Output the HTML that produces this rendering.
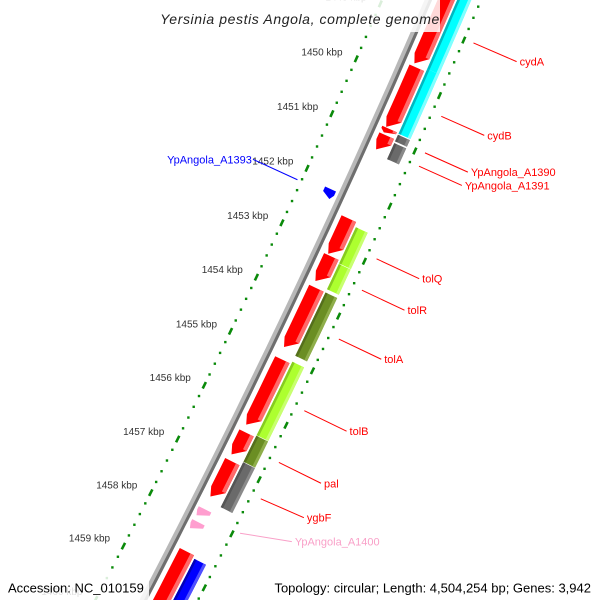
<!DOCTYPE html>
<html><head><meta charset="utf-8"><style>
html,body{margin:0;padding:0;background:#fff;width:600px;height:600px;overflow:hidden}
svg{display:block;overflow:hidden}
text{font-family:"Liberation Sans","DejaVu Sans",sans-serif}
</style></head><body>
<svg id="map" width="600" height="600" viewBox="0 0 600 600" xmlns="http://www.w3.org/2000/svg">
<rect width="600" height="600" fill="#fff"/>
<g id="ticks"></g>
<g id="backbone"></g>
<g id="features"></g>
<g id="labels"></g>
<rect x="152" y="0" width="288" height="32" fill="#fff" fill-opacity="0.85"/>
<text x="300" y="24" text-anchor="middle" font-size="14" font-style="italic" fill="#222" letter-spacing="0.6">Yersinia pestis Angola, complete genome</text>
<rect x="3" y="573" width="146" height="27" fill="#fff" fill-opacity="0.85"/>
<text x="8" y="588" font-size="13" fill="#000" dominant-baseline="central">Accession: NC_010159</text>
<rect x="256" y="573" width="342" height="27" fill="#fff" fill-opacity="0.85"/>
<text x="591" y="588" font-size="13" fill="#000" text-anchor="end" dominant-baseline="central">Topology: circular; Length: 4,504,254 bp; Genes: 3,942</text>
</svg>
<script>
// ---- data (kbp) ----
const tickKbp = [1448,1449,1450,1451,1452,1453,1454,1455,1456,1457,1458,1459,1460];
const tickLabels = ["1448 kbp","1449 kbp","1450 kbp","1451 kbp","1452 kbp","1453 kbp","1454 kbp","1455 kbp","1456 kbp","1457 kbp","1458 kbp","1459 kbp","1460 kbp"];
// forward (red) CDS ring
const redStart = [1440, 1449.73, 1450.84, 1450.96, 1452.47, 1453.16, 1453.74, 1455.05, 1456.40, 1456.93, 1458.60];
const redEnd   = [1449.68, 1450.83, 1450.93, 1451.24, 1453.14, 1453.64, 1454.85, 1456.28, 1456.83, 1457.61, 1466];
// gene ring
const geneStart = [1440, 1449.68, 1450.87, 1451.02, 1452.55, 1453.22, 1453.74, 1455.01, 1456.37, 1456.86, 1458.65];
const geneEnd   = [1449.68, 1450.85, 1450.99, 1451.31, 1453.21, 1453.68, 1454.90, 1456.36, 1456.85, 1457.69, 1466];
const geneKind  = ["cyan","cyan","gray","gray","lime","lime","olive","lime","olive","gray","blue"];
// small pink features
const pinkStart = [1457.84, 1458.08];
const pinkEnd   = [1457.99, 1458.23];
// inner-strand blue feature
const blueStart = [1452.15];
const blueEnd   = [1452.31];
// labels
const labelNames = ["cydA","cydB","YpAngola_A1390","YpAngola_A1391","tolQ","tolR","tolA","tolB","pal","ygbF","YpAngola_A1400","YpAngola_A1393"];
const labelAnchorKbp = [1448.98,1450.30,1450.96,1451.20,1452.88,1453.45,1454.34,1455.65,1456.60,1457.27,1457.93,1452.24];
const labelPosKbp    = [1448.98,1450.30,1450.96,1451.20,1452.88,1453.45,1454.34,1455.65,1456.60,1457.23,1457.67,1452.24];
const labelColor = ["#f00","#f00","#f00","#f00","#f00","#f00","#f00","#f00","#f00","#f00","#f9a0c8","#00f"];
const labelSide  = [1,1,1,1,1,1,1,1,1,1,1,-1];

// ---- geometry ----
const CX=-7838, CY=-3558, R0=9000, TH0=0.41567, DTH=0.00670;
function ang(k){return TH0+(k-1450)*DTH;}
function pt(k,d){const a=ang(k),r=R0+d;return [CX+r*Math.cos(a),CY+r*Math.sin(a)];}
function fmt(p){return p.map(q=>q[0].toFixed(1)+","+q[1].toFixed(1)).join(" ");}
function band(k1,k2,d1,d2){
  const n=Math.max(2,Math.ceil(Math.abs(k2-k1)*4)),p=[];
  for(let i=0;i<=n;i++)p.push(pt(k1+(k2-k1)*i/n,d2));
  for(let i=n;i>=0;i--)p.push(pt(k1+(k2-k1)*i/n,d1));
  return fmt(p);
}
function arrow(k1,k2,d1,d2,hl,tipd){
  const head=Math.min(hl,(k2-k1)*0.6),kb=k2-head,p=[];
  const n=Math.max(2,Math.ceil((kb-k1)*4));
  for(let i=0;i<=n;i++)p.push(pt(k1+(kb-k1)*i/n,d2));
  p.push(pt(k2,tipd));
  for(let i=n;i>=0;i--)p.push(pt(k1+(kb-k1)*i/n,d1));
  return fmt(p);
}
const NS="http://www.w3.org/2000/svg";
function mk(tag,parent,attrs){const e=document.createElementNS(NS,tag);for(const a in attrs)e.setAttribute(a,attrs[a]);parent.appendChild(e);return e;}

// ---- tick rings ----
const tg=document.getElementById('ticks');
[-43,48].forEach(function(d,ri){
  for(let s=14400;s<=14660;s+=2){
    const k=s/10;
    if(s%10===0){
      const a=pt(k-0.06,d),b=pt(k+0.06,d);
      const el=mk('line',tg,{x1:a[0],y1:a[1],x2:b[0],y2:b[1],stroke:'#0a8a0a','stroke-width':2.6});
      
      
    } else {
      const c=pt(k,d);
      const el=mk('rect',tg,{x:c[0]-1.2,y:c[1]-1.2,width:2.4,height:2.4,fill:'#0a8a0a'});
      
      
    }
  }
});
tickKbp.forEach(function(k,i){
  const c=pt(k,-58);
  const t=mk('text',tg,{x:c[0],y:c[1],'font-size':10,fill:'#333','text-anchor':'end','dominant-baseline':'central','font-family':'"DejaVu Sans",sans-serif'});
  t.textContent=tickLabels[i];
  
  
});

// ---- backbone ----
const bg=document.getElementById('backbone');
let e=mk('polygon',bg,{points:band(1440,1466,-4,3),fill:'#b8b8b8'});


e=mk('polygon',bg,{points:band(1440,1466,0,3),fill:'#6e6e6e'});



// ---- features ----
const fg=document.getElementById('features');
const colors={cyan:['#00ffff','#00b8c0','#80ffff'],gray:['#6a6a6a','#555','#8a8a8a'],lime:['#adff2f','#86cc20','#c8ff70'],olive:['#6b8e23','#556f1c','#8fae4a'],blue:['#0000ff','#0000b8','#5050ff']};
redStart.forEach(function(s,i){
  const hl=0.16;
  let p=mk('polygon',fg,{points:arrow(s,redEnd[i],8,24,hl,12),fill:'#ff0000'});
  
  
  p=mk('polygon',fg,{points:band(s,redEnd[i]-Math.min(hl,(redEnd[i]-s)*0.6),20,24),fill:'#ff6a6a'});
  
  
});
geneStart.forEach(function(s,i){
  const c=colors[geneKind[i]];
  let p=mk('polygon',fg,{points:band(s,geneEnd[i],26,39),fill:c[0]});
  
  
  p=mk('polygon',fg,{points:band(s,geneEnd[i],26,28.5),fill:c[1]});
  
  
  p=mk('polygon',fg,{points:band(s,geneEnd[i],36,39),fill:c[2]});
  
  
});
pinkStart.forEach(function(s,i){
  const p=mk('polygon',fg,{points:arrow(s,pinkEnd[i],6,20,0.2,8),fill:'#ff9ecf'});
  
  
});
blueStart.forEach(function(s,i){
  const p=mk('polygon',fg,{points:arrow(s,blueEnd[i],-19,-7,0.08,-10),fill:'#0000ff'});
  
  
});

// ---- labels ----
const lg=document.getElementById('labels');
labelNames.forEach(function(n,i){
  const sd=labelSide[i];
  const a=pt(labelAnchorKbp[i],sd>0?(i===10?55:58):-47);
  const b=pt(labelPosKbp[i],sd>0?105:-96);
  const l=mk('line',lg,{x1:a[0],y1:a[1],x2:b[0],y2:b[1],stroke:labelColor[i],'stroke-width':1});
  
  
  const t=mk('text',lg,{x:b[0]+(sd>0?3:-1),y:b[1]+1,'font-size':11,fill:labelColor[i],'text-anchor':sd>0?'start':'end','dominant-baseline':'central'});
  t.textContent=n;
  
  
});
</script>
</body></html>
